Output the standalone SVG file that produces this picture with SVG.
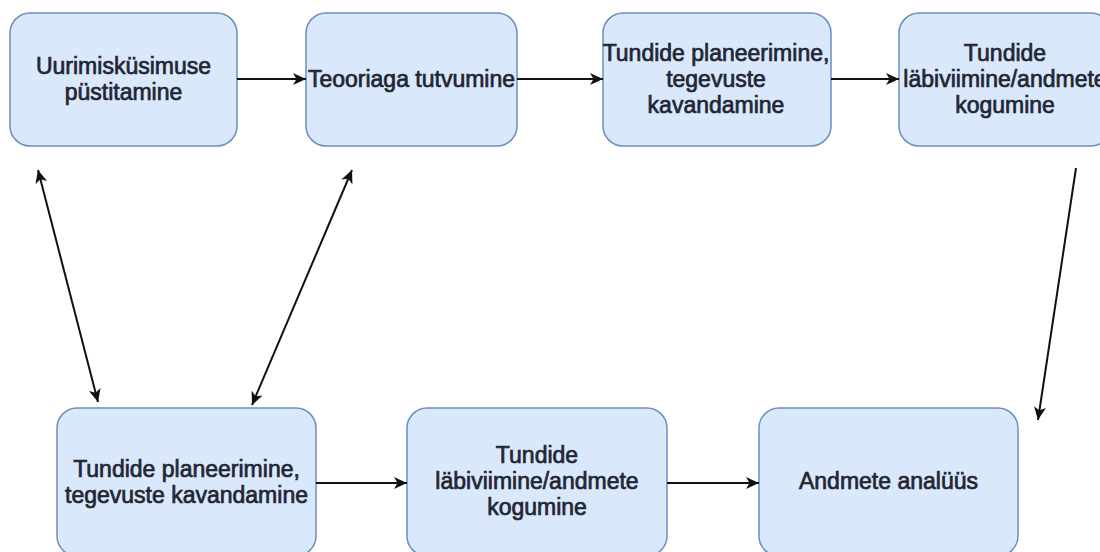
<svg xmlns="http://www.w3.org/2000/svg" width="1100" height="552" viewBox="0 0 1100 552">
  <defs>
    <marker id="arr" viewBox="0 0 14 14" refX="13" refY="7" markerWidth="14" markerHeight="14" markerUnits="userSpaceOnUse" orient="auto-start-reverse">
      <path d="M0,1 L13,7 L0,13 L3.5,7 z" fill="#111"/>
    </marker>
  </defs>
  <style>
    .box { fill: #dae8fc; stroke: #6c8ebf; stroke-width: 1.5; }
    .lbl { font-family: "Liberation Sans", Arial, sans-serif; font-size: 23px; fill: #222633; stroke: #222633; stroke-width: 0.7; text-anchor: middle; }
    .conn { stroke: #111; stroke-width: 2; fill: none; }
  </style>
  <rect width="1100" height="552" fill="#ffffff"/>

  <g id="node-uurimiskusimus">
    <rect class="box" x="10" y="13" width="227" height="133" rx="20" ry="20"/>
    <text class="lbl" x="123.5" y="74">Uurimisküsimuse</text>
    <text class="lbl" x="123.5" y="100">püstitamine</text>
  </g>

  <g id="node-teooria">
    <rect class="box" x="306" y="13" width="211" height="133" rx="20" ry="20"/>
    <text class="lbl" x="411.5" y="87">Teooriaga tutvumine</text>
  </g>

  <g id="node-planeerimine-1">
    <rect class="box" x="603" y="13" width="228" height="133" rx="20" ry="20"/>
    <text class="lbl" x="716" y="61">Tundide planeerimine,</text>
    <text class="lbl" x="716" y="87">tegevuste</text>
    <text class="lbl" x="716" y="113">kavandamine</text>
  </g>

  <g id="node-labiviimine-1">
    <rect class="box" x="899" y="13" width="212" height="133" rx="20" ry="20"/>
    <text class="lbl" x="1005" y="61">Tundide</text>
    <text class="lbl" x="1005" y="87">läbiviimine/andmete</text>
    <text class="lbl" x="1005" y="113">kogumine</text>
  </g>

  <g id="node-planeerimine-2">
    <rect class="box" x="57" y="408" width="259" height="148" rx="20" ry="20"/>
    <text class="lbl" x="186.5" y="477">Tundide planeerimine,</text>
    <text class="lbl" x="186.5" y="503">tegevuste kavandamine</text>
  </g>

  <g id="node-labiviimine-2">
    <rect class="box" x="407" y="408" width="260" height="148" rx="20" ry="20"/>
    <text class="lbl" x="537" y="463">Tundide</text>
    <text class="lbl" x="537" y="489">läbiviimine/andmete</text>
    <text class="lbl" x="537" y="515">kogumine</text>
  </g>

  <g id="node-analuus">
    <rect class="box" x="759" y="408" width="259" height="148" rx="20" ry="20"/>
    <text class="lbl" x="888.5" y="489">Andmete analüüs</text>
  </g>

  <g id="connectors">
    <line class="conn" x1="237" y1="79" x2="306" y2="79" marker-end="url(#arr)"/>
    <line class="conn" x1="517" y1="79" x2="603" y2="79" marker-end="url(#arr)"/>
    <line class="conn" x1="831" y1="79" x2="899" y2="79" marker-end="url(#arr)"/>
    <line class="conn" x1="38" y1="170" x2="98" y2="402" marker-start="url(#arr)" marker-end="url(#arr)"/>
    <line class="conn" x1="352" y1="170" x2="252" y2="405" marker-start="url(#arr)" marker-end="url(#arr)"/>
    <line class="conn" x1="1076" y1="168" x2="1038" y2="420" marker-end="url(#arr)"/>
    <line class="conn" x1="316" y1="483" x2="407" y2="483" marker-end="url(#arr)"/>
    <line class="conn" x1="667" y1="483" x2="759" y2="483" marker-end="url(#arr)"/>
  </g>
</svg>
